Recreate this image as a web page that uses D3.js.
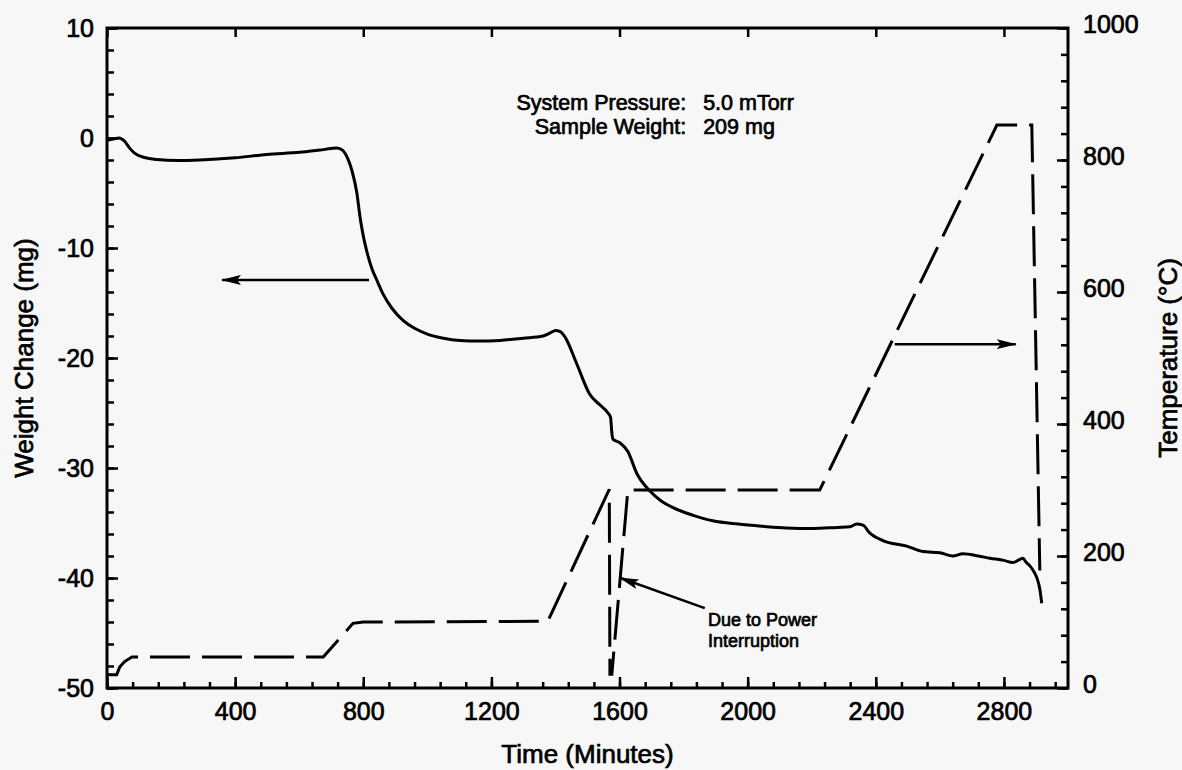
<!DOCTYPE html>
<html lang="en">
<head>
<meta charset="UTF-8" />
<title>Weight change and temperature vs. time</title>
<script src="https://d3js.org/d3.v7.min.js"></script>
<style>
    html, body {
        margin: 0;
        padding: 0;
        background: #f7f7f7;
    }
    svg {
        display: block;
    }
    text {
        font-family: "Liberation Sans", Arial, sans-serif;
        fill: #000;
        stroke: #000;
        stroke-width: 0.7px;
    }
    .tick line {
        stroke: #000;
        stroke-width: 2.5px;
    }
</style>
</head>
<body>
<div id="chart"></div>
<script>
    const width = 1182;
    const height = 770;
    const marginTop = 28;
    const marginRight = 114;
    const marginBottom = 82;
    const marginLeft = 107;

    // axis ticks
    const timeTicks = [0, 400, 800, 1200, 1600, 2000, 2400, 2800];
    const weightTicks = [-50, -40, -30, -20, -10, 0, 10];
    const tempTicks = [0, 200, 400, 600, 800, 1000];

    // weight change (mg), solid curve, left axis
    const weightTime = [0, 20, 37, 55, 70, 87, 120, 156, 220, 290, 400, 499, 602, 665, 700, 718, 735, 752, 765, 780,
        790, 800, 811, 826, 845, 862, 890, 925, 960, 998, 1050, 1102, 1160, 1227, 1300, 1361, 1385, 1400, 1415, 1430,
        1466, 1507, 1540, 1564, 1572, 1576, 1580, 1601, 1626, 1654, 1695, 1730, 1767, 1830, 1891, 1970, 2047, 2120,
        2204, 2280, 2319, 2340, 2360, 2381, 2422, 2497, 2547, 2600, 2641, 2672, 2720, 2756, 2800, 2828, 2850, 2859,
        2870, 2881, 2895, 2903, 2912, 2918];
    const weightValue = [-0.2, -0.1, 0.0, -0.3, -0.9, -1.4, -1.8, -1.95, -2.05, -2.0, -1.8, -1.5, -1.3, -1.1, -0.95,
        -0.9, -1.1, -1.9, -3.0, -5.0, -7.2, -8.9, -10.3, -11.8, -13.1, -14.2, -15.5, -16.6, -17.3, -17.8, -18.2, -18.4,
        -18.45, -18.4, -18.2, -18.0, -17.7, -17.5, -17.6, -18.1, -20.5, -23.3, -24.3, -25.0, -25.4, -26.8, -27.4,
        -27.7, -28.5, -30.5, -32.1, -33.0, -33.6, -34.3, -34.8, -35.1, -35.3, -35.45, -35.5, -35.4, -35.35, -35.1,
        -35.2, -35.9, -36.6, -37.1, -37.6, -37.7, -38.0, -37.8, -38.0, -38.2, -38.4, -38.6, -38.3, -38.2, -38.6,
        -38.9, -39.5, -40.0, -41.0, -42.3];

    // temperature (C), dashed line, right axis
    const tempTime = [0, 30, 40, 55, 78, 675, 768, 800, 1376, 1568, 1570, 1576, 1626, 2225, 2778, 2887, 2912];
    const tempValue = [20, 20, 32, 40, 47, 47, 98, 100, 101, 301, 21, 21, 300, 300, 853, 853, 178];

    const x = d3.scaleLinear().domain([0, 3000]).range([marginLeft, width - marginRight]);
    const yW = d3.scaleLinear().domain([-50, 10]).range([height - marginBottom, marginTop]);
    const yT = d3.scaleLinear().domain([0, 1000]).range([height - marginBottom, marginTop]);

    const plain = d => String(d);

    const svg = d3.select("#chart")
        .append("svg")
        .attr("width", width)
        .attr("height", height);

    svg.append("rect")
        .attr("width", width)
        .attr("height", height)
        .attr("fill", "#f7f7f7");

    // arrow head
    svg.append("defs").append("marker")
        .attr("id", "head")
        .attr("viewBox", "0 0 20 10")
        .attr("refX", 19)
        .attr("refY", 5)
        .attr("markerUnits", "userSpaceOnUse")
        .attr("markerWidth", 20)
        .attr("markerHeight", 10)
        .attr("orient", "auto")
        .append("path")
        .attr("d", "M0,0 L20,5 L0,10 L4,5 Z")
        .attr("fill", "#000");

    const fontTick = 25;

    // bottom axis: majors with labels, minors every 80
    svg.append("g")
        .attr("transform", `translate(0,${height - marginBottom})`)
        .call(d3.axisBottom(x).tickValues(d3.range(0, 3001, 80)).tickSize(-6).tickFormat(""))
        .call(g => g.select(".domain").remove());
    svg.append("g")
        .attr("transform", `translate(0,${height - marginBottom})`)
        .call(d3.axisBottom(x).tickValues(timeTicks).tickSize(-11).tickPadding(14).tickFormat(plain))
        .call(g => g.select(".domain").remove())
        .selectAll("text").attr("font-size", fontTick);

    // top axis, majors only
    svg.append("g")
        .attr("transform", `translate(0,${marginTop})`)
        .call(d3.axisTop(x).tickValues(timeTicks).tickSize(-9).tickFormat(""))
        .call(g => g.select(".domain").remove());

    // left axis
    svg.append("g")
        .attr("transform", `translate(${marginLeft},0)`)
        .call(d3.axisLeft(yW).tickValues(d3.range(-50, 11, 2)).tickSize(-7).tickFormat(""))
        .call(g => g.select(".domain").remove());
    svg.append("g")
        .attr("transform", `translate(${marginLeft},0)`)
        .call(d3.axisLeft(yW).tickValues(weightTicks).tickSize(-11).tickPadding(13).tickFormat(plain))
        .call(g => g.select(".domain").remove())
        .selectAll("text").attr("font-size", fontTick);

    // right axis
    svg.append("g")
        .attr("transform", `translate(${width - marginRight},0)`)
        .call(d3.axisRight(yT).tickValues(d3.range(0, 1001, 40)).tickSize(-7).tickFormat(""))
        .call(g => g.select(".domain").remove());
    svg.append("g")
        .attr("transform", `translate(${width - marginRight},0)`)
        .call(d3.axisRight(yT).tickValues(tempTicks).tickSize(-11).tickPadding(15).tickFormat(plain))
        .call(g => g.select(".domain").remove())
        .selectAll("text").attr("font-size", fontTick).attr("y", -4);

    // frame
    svg.append("rect")
        .attr("x", marginLeft)
        .attr("y", marginTop)
        .attr("width", width - marginLeft - marginRight)
        .attr("height", height - marginTop - marginBottom)
        .attr("fill", "none")
        .attr("stroke", "#000")
        .attr("stroke-width", 3);

    // weight curve
    const weightData = weightTime.map((t, i) => [t, weightValue[i]]);
    svg.append("path")
        .datum(weightData)
        .attr("fill", "none")
        .attr("stroke", "#000")
        .attr("stroke-width", 3)
        .attr("stroke-linejoin", "round")
        .attr("d", d3.line().x(d => x(d[0])).y(d => yW(d[1])).curve(d3.curveMonotoneX));

    // temperature
    const tempData = tempTime.map((t, i) => [t, tempValue[i]]);
    svg.append("path")
        .datum(tempData)
        .attr("fill", "none")
        .attr("stroke", "#000")
        .attr("stroke-width", 3)
        .attr("stroke-dasharray", "40,12")
        .attr("d", d3.line().x(d => x(d[0])).y(d => yT(d[1])));

    // arrows
    svg.append("line")
        .attr("x1", x(818)).attr("y1", yW(-12.9))
        .attr("x2", x(359)).attr("y2", yW(-12.9))
        .attr("stroke", "#000").attr("stroke-width", 2.5)
        .attr("marker-end", "url(#head)");
    svg.append("line")
        .attr("x1", x(2459)).attr("y1", yT(521))
        .attr("x2", x(2837)).attr("y2", yT(521))
        .attr("stroke", "#000").attr("stroke-width", 2.5)
        .attr("marker-end", "url(#head)");
    svg.append("line")
        .attr("x1", x(1866)).attr("y1", yT(121))
        .attr("x2", x(1601)).attr("y2", yT(167))
        .attr("stroke", "#000").attr("stroke-width", 2.5)
        .attr("marker-end", "url(#head)");

    // annotations
    const note = svg.append("g").attr("font-size", 21.5);
    note.append("text").attr("x", x(1808)).attr("y", 110).attr("text-anchor", "end").text("System Pressure:");
    note.append("text").attr("x", x(1861)).attr("y", 110).text("5.0 mTorr");
    note.append("text").attr("x", x(1808)).attr("y", 134).attr("text-anchor", "end").text("Sample Weight:");
    note.append("text").attr("x", x(1861)).attr("y", 134).text("209 mg");

    const power = svg.append("g").attr("font-size", 18);
    power.append("text").attr("x", x(1876)).attr("y", 626).text("Due to Power");
    power.append("text").attr("x", x(1876)).attr("y", 647).text("Interruption");

    // axis titles
    svg.append("text")
        .attr("x", (marginLeft + width - marginRight) / 2)
        .attr("y", 763)
        .attr("text-anchor", "middle")
        .attr("font-size", 26)
        .text("Time (Minutes)");
    svg.append("text")
        .attr("transform", `translate(33,${(marginTop + height - marginBottom) / 2}) rotate(-90)`)
        .attr("text-anchor", "middle")
        .attr("font-size", 26)
        .text("Weight Change (mg)");
    svg.append("text")
        .attr("transform", `translate(1177,${(marginTop + height - marginBottom) / 2}) rotate(-90)`)
        .attr("text-anchor", "middle")
        .attr("font-size", 26)
        .text("Temperature (°C)");
</script>
</body>
</html>
